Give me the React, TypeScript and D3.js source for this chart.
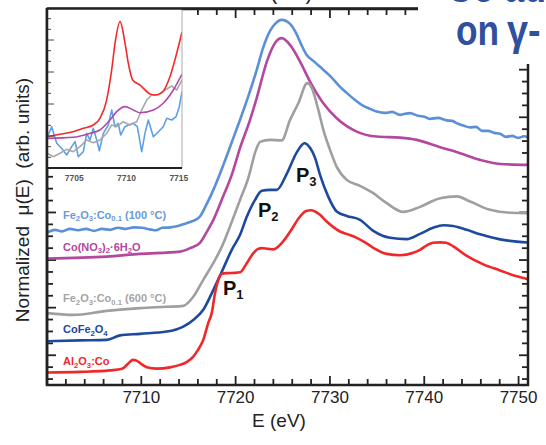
import React from 'react';
import * as d3 from 'd3';

// ---------- data ----------
const X_DOMAIN: [number, number] = [7700, 7751];
const Y_DOMAIN: [number, number] = [-0.25, 2.91];
const X_TICK_LABELS = [7710, 7720, 7730, 7740, 7750];
const INSET_X_DOMAIN: [number, number] = [7702.4, 7715.3];
const INSET_Y_DOMAIN: [number, number] = [0, 1.5];
const INSET_X_TICK_LABELS = [7705, 7710, 7715];

// main panel series: [E (eV), normalized mu(E) + offset]
const AL2O3_CO: [number, number][] = [
  [7700.0, -0.145], [7703.5, -0.14], [7706.68, -0.127], [7707.95, -0.114], [7708.59, -0.072],
  [7709.09, -0.039], [7709.54, -0.047], [7709.97, -0.072], [7710.57, -0.1], [7711.63, -0.112],
  [7713.04, -0.102], [7714.1, -0.081], [7714.85, -0.055], [7715.51, -0.011], [7716.01, 0.045],
  [7716.57, 0.129], [7717.1, 0.272], [7717.47, 0.356], [7717.82, 0.524], [7718.17, 0.634],
  [7718.53, 0.684], [7719.06, 0.69], [7719.94, 0.692], [7720.47, 0.697], [7721.18, 0.774],
  [7721.88, 0.858], [7722.38, 0.894], [7722.77, 0.9], [7723.44, 0.894], [7724.0, 0.89],
  [7724.89, 0.942], [7725.77, 1.037], [7726.83, 1.166], [7727.47, 1.213], [7728.0, 1.219],
  [7728.42, 1.208], [7728.95, 1.18], [7729.66, 1.124], [7730.33, 1.079], [7731.07, 1.04],
  [7731.92, 1.016], [7732.84, 0.987], [7733.72, 0.949], [7734.6, 0.903], [7736.02, 0.852],
  [7737.43, 0.84], [7738.84, 0.861], [7739.55, 0.886], [7740.27, 0.924], [7740.93, 0.945],
  [7741.68, 0.949], [7742.31, 0.946], [7743.09, 0.915], [7744.51, 0.835], [7746.27, 0.764],
  [7748.04, 0.713], [7749.81, 0.663], [7751.0, 0.639],
];
const COFE2O4: [number, number][] = [
  [7700.0, 0.118], [7703.5, 0.125], [7706.33, 0.129], [7707.74, 0.167], [7709.86, 0.18],
  [7712.69, 0.199], [7714.45, 0.241], [7715.51, 0.297], [7716.57, 0.382], [7717.64, 0.55],
  [7718.53, 0.701], [7719.59, 0.886], [7720.47, 1.012], [7721.18, 1.163], [7722.06, 1.306],
  [7722.77, 1.382], [7723.65, 1.39], [7724.36, 1.39], [7725.42, 1.524], [7726.48, 1.705],
  [7727.29, 1.782], [7727.89, 1.743], [7728.42, 1.659], [7728.95, 1.516], [7729.83, 1.331],
  [7730.72, 1.208], [7731.78, 1.171], [7733.19, 1.138], [7734.6, 1.045], [7736.37, 0.987],
  [7738.14, 0.976], [7739.55, 1.02], [7740.93, 1.071], [7742.03, 1.093], [7743.05, 1.087],
  [7744.51, 1.054], [7745.92, 1.016], [7748.04, 0.974], [7751.0, 0.947],
];
const FE2O3_CO_600: [number, number][] = [
  [7700.0, 0.354], [7702.76, 0.339], [7706.33, 0.373], [7709.86, 0.396], [7712.62, 0.407],
  [7714.45, 0.415], [7715.51, 0.491], [7716.57, 0.634], [7717.64, 0.776], [7718.53, 0.911],
  [7719.59, 1.121], [7720.47, 1.306], [7721.35, 1.491], [7722.16, 1.726], [7722.59, 1.793],
  [7723.65, 1.81], [7724.89, 1.806], [7725.77, 1.978], [7726.65, 2.118], [7727.6, 2.287],
  [7728.07, 2.247], [7728.77, 2.062], [7729.3, 1.894], [7730.01, 1.726], [7730.72, 1.583],
  [7731.78, 1.474], [7733.19, 1.424], [7734.6, 1.362], [7736.02, 1.278], [7737.78, 1.205],
  [7739.55, 1.247], [7741.68, 1.32], [7743.45, 1.335], [7744.86, 1.292], [7746.98, 1.222],
  [7749.1, 1.197], [7751.0, 1.194],
];
const CO_NO3_2: [number, number][] = [
  [7700.0, 0.813], [7706.33, 0.829], [7709.86, 0.852], [7714.1, 0.871], [7715.16, 0.9],
  [7716.22, 0.945], [7716.94, 1.037], [7717.64, 1.138], [7718.7, 1.34], [7719.59, 1.516],
  [7720.47, 1.743], [7721.53, 1.978], [7722.24, 2.163], [7723.3, 2.466], [7724.18, 2.625],
  [7724.89, 2.665], [7725.77, 2.608], [7726.83, 2.468], [7727.89, 2.3], [7729.3, 2.118],
  [7730.72, 1.992], [7732.84, 1.88], [7734.96, 1.838], [7737.43, 1.829], [7739.21, 1.81],
  [7741.68, 1.749], [7743.8, 1.698], [7745.92, 1.642], [7748.04, 1.608], [7751.0, 1.6],
];
const FE2O3_CO_100: [number, number][] = [
  [7700.0, 1.031], [7700.85, 1.054], [7701.59, 1.041], [7702.44, 1.062], [7703.29, 1.05],
  [7704.14, 1.062], [7704.98, 1.045], [7705.83, 1.062], [7706.68, 1.054], [7707.53, 1.071],
  [7708.38, 1.062], [7709.23, 1.075], [7710.07, 1.071], [7710.92, 1.058], [7711.56, 1.05],
  [7712.2, 1.071], [7713.04, 1.075], [7713.89, 1.087], [7714.74, 1.108], [7715.48, 1.129],
  [7716.22, 1.166], [7716.94, 1.272], [7717.64, 1.39], [7718.7, 1.6], [7719.76, 1.827],
  [7720.47, 1.979], [7721.32, 2.172], [7722.24, 2.399], [7722.91, 2.583], [7723.65, 2.726],
  [7724.18, 2.785], [7724.89, 2.819], [7725.77, 2.785], [7726.4, 2.709], [7726.83, 2.634],
  [7727.54, 2.524], [7728.24, 2.474], [7728.95, 2.424], [7730.01, 2.348], [7731.07, 2.256],
  [7731.78, 2.205], [7732.66, 2.146], [7733.54, 2.096], [7734.25, 2.071], [7734.96, 2.048],
  [7735.84, 2.037], [7736.59, 2.045], [7737.43, 2.02], [7737.96, 2.029], [7738.49, 2.035],
  [7739.34, 2.012], [7740.08, 2.003], [7740.61, 1.987], [7741.46, 1.995], [7742.39, 1.974],
  [7742.95, 1.97], [7743.59, 1.945], [7744.22, 1.928], [7744.86, 1.915], [7745.49, 1.919],
  [7746.13, 1.886], [7746.77, 1.886], [7747.4, 1.869], [7748.04, 1.861], [7748.67, 1.835],
  [7749.31, 1.844], [7749.95, 1.827], [7750.58, 1.84], [7751.0, 1.833],
];

// inset (pre-edge) series
const INSET_AL2O3_CO: [number, number][] = [
  [7702.43, 0.293], [7703.64, 0.316], [7704.91, 0.34], [7705.87, 0.372], [7706.82, 0.403],
  [7707.46, 0.466], [7708.1, 0.637], [7708.58, 0.919], [7708.9, 1.169], [7709.38, 1.372],
  [7709.86, 1.169], [7710.17, 0.982], [7710.59, 0.825], [7711.29, 0.778], [7712.24, 0.694],
  [7712.72, 0.684], [7713.36, 0.706], [7714.15, 0.856], [7714.79, 1.075], [7715.3, 1.275],
];
const INSET_CO_NO3_2: [number, number][] = [
  [7702.43, 0.278], [7704.91, 0.288], [7706.51, 0.325], [7707.46, 0.356], [7708.42, 0.45],
  [7709.06, 0.528], [7709.85, 0.575], [7710.65, 0.544], [7711.29, 0.518], [7712.56, 0.544],
  [7713.51, 0.607], [7714.47, 0.731], [7715.3, 0.881],
];
const INSET_FE2O3_CO_600: [number, number][] = [
  [7702.43, 0.138], [7703.0, 0.106], [7703.64, 0.138], [7704.28, 0.175], [7704.91, 0.153],
  [7705.55, 0.2], [7706.19, 0.262], [7706.82, 0.237], [7707.46, 0.262], [7708.1, 0.325],
  [7708.58, 0.403], [7709.06, 0.387], [7709.69, 0.434], [7710.33, 0.403], [7710.97, 0.434],
  [7711.45, 0.544], [7711.93, 0.637], [7712.4, 0.684], [7713.04, 0.684], [7713.68, 0.731],
  [7714.32, 0.769], [7714.79, 0.731], [7715.3, 0.825],
];
const INSET_FE2O3_CO_100: [number, number][] = [
  [7702.43, 0.293], [7702.85, 0.387], [7703.33, 0.232], [7703.8, 0.185], [7704.28, 0.122],
  [7704.76, 0.2], [7705.08, 0.247], [7705.39, 0.106], [7705.87, 0.153], [7706.19, 0.325],
  [7706.51, 0.262], [7706.82, 0.372], [7707.15, 0.262], [7707.4, 0.162], [7707.78, 0.325],
  [7708.26, 0.403], [7708.58, 0.544], [7708.9, 0.387], [7709.21, 0.419], [7709.44, 0.309],
  [7709.85, 0.387], [7710.17, 0.403], [7710.65, 0.419], [7711.03, 0.387], [7711.45, 0.153],
  [7711.76, 0.325], [7712.08, 0.45], [7712.56, 0.293], [7713.04, 0.34], [7713.51, 0.387],
  [7713.84, 0.466], [7714.32, 0.45], [7714.73, 0.481], [7715.04, 0.575], [7715.3, 0.715],
];

// labels: [text, isSubscript]
type Part = [string, boolean];
const LABEL_FE_100: Part[] = [['Fe', false], ['2', true], ['O', false], ['3', true], [':Co', false], ['0.1', true], [' (100 °C)', false]];
const LABEL_CONO3: Part[] = [['Co(NO', false], ['3', true], [')', false], ['2', true], ['·6H', false], ['2', true], ['O', false]];
const LABEL_FE_600: Part[] = [['Fe', false], ['2', true], ['O', false], ['3', true], [':Co', false], ['0.1', true], [' (600 °C)', false]];
const LABEL_COFE: Part[] = [['CoFe', false], ['2', true], ['O', false], ['4', true]];
const LABEL_AL: Part[] = [['Al', false], ['2', true], ['O', false], ['3', true], [':Co', false]];

// ---------- layout ----------
const W = 546, H = 445;
const PL = 47, PR = 528, PT = 9, PB = 385;
const IL = 47, IR = 182, IT = 8, IB = 168;

const C_LBLUE = '#5b8fd8';
const C_MAG = '#b4479f';
const C_GRAY = '#9f9f9f';
const C_DBLUE = '#1d4a9e';
const C_RED = '#f0282a';
const AX = '#222';

function Chem({ parts, x, y, fill, size }: { parts: Part[]; x: number; y: number; fill: string; size: number }) {
  let prevSub = false;
  return (
    <text x={x} y={y} fill={fill} fontSize={size} fontWeight="bold" fontFamily="Arial, Liberation Sans, sans-serif" style={{ whiteSpace: 'pre' }}>
      {parts.map(([t, sub], i) => {
        const dy = sub && !prevSub ? size * 0.25 : !sub && prevSub ? -size * 0.25 : 0;
        prevSub = sub;
        return (
          <tspan key={i} dy={dy} fontSize={sub ? size * 0.7 : size}>{t}</tspan>
        );
      })}
    </text>
  );
}

function PLabel({ n, x, y }: { n: string; x: number; y: number }) {
  return (
    <text x={x} y={y} fill="#111" fontSize={20} fontWeight="bold" fontFamily="Arial, Liberation Sans, sans-serif">
      P<tspan dy={4} fontSize={13}>{n}</tspan>
    </text>
  );
}

export default function App() {
  const x = d3.scaleLinear().domain(X_DOMAIN).range([PL, PR]);
  const y = d3.scaleLinear().domain(Y_DOMAIN).range([PB, PT]);
  const ix = d3.scaleLinear().domain(INSET_X_DOMAIN).range([IL, IR]);
  const iy = d3.scaleLinear().domain(INSET_Y_DOMAIN).range([IB, IT]);

  const line = d3.line<[number, number]>().x(d => x(d[0])).y(d => y(d[1])).curve(d3.curveMonotoneX);
  const iline = d3.line<[number, number]>().x(d => ix(d[0])).y(d => iy(d[1])).curve(d3.curveMonotoneX);
  const ilineLin = d3.line<[number, number]>().x(d => ix(d[0])).y(d => iy(d[1]));

  const xTicks = d3.range(7702, 7751, 2);
  const yTicks = d3.range(-2, 30);
  const iyTicks = d3.range(1, 15);

  const font = 'Arial, Liberation Sans, sans-serif';

  return (
    <svg width={W} height={H} style={{ position: 'absolute', left: 0, top: 0, background: '#fff' }} fontFamily={font}>
      <defs>
        <clipPath id="plotClip"><rect x={PL} y={PT} width={PR - PL} height={PB - PT} /></clipPath>
        <clipPath id="insetClip"><rect x={IL} y={IT} width={IR - IL} height={IB - IT} /></clipPath>
      </defs>
      <rect x={0} y={0} width={W} height={H} fill="#fff" />

      {/* title remnant (cut off at the top, as in the source) */}
      <text x={270} y={-1} fontSize={22} fill="#222" letterSpacing={8}>(b)</text>

      {/* ticks */}
      <g stroke={AX} strokeWidth={1.8}>
        {xTicks.map(t => {
          const major = t % 10 === 0;
          const L = major ? 9 : 6;
          return (
            <g key={t}>
              <line x1={x(t)} x2={x(t)} y1={PB} y2={PB - L} />
              <line x1={x(t)} x2={x(t)} y1={PT} y2={PT + L} />
            </g>
          );
        })}
        {yTicks.map(i => {
          const major = i % 4 === 0;
          const L = major ? 9 : 6;
          const v = i / 10;
          return (
            <g key={i}>
              <line x1={PL} x2={PL + L} y1={y(v)} y2={y(v)} />
              <line x1={PR} x2={PR - L} y1={y(v)} y2={y(v)} />
            </g>
          );
        })}
      </g>

      {/* curves */}
      <g clipPath="url(#plotClip)" fill="none" strokeWidth={2.6} strokeLinejoin="round">
        <path d={line(FE2O3_CO_100) || ''} stroke={C_LBLUE} />
        <path d={line(CO_NO3_2) || ''} stroke={C_MAG} />
        <path d={line(FE2O3_CO_600) || ''} stroke={C_GRAY} />
        <path d={line(COFE2O4) || ''} stroke={C_DBLUE} />
        <path d={line(AL2O3_CO) || ''} stroke={C_RED} />
      </g>

      {/* frame */}
      <rect x={PL} y={PT} width={PR - PL} height={PB - PT} fill="none" stroke={AX} strokeWidth={2.5} />

      {/* series labels */}
      <Chem parts={LABEL_FE_100} x={63} y={218.5} fill="#6a9ad9" size={11} />
      <Chem parts={LABEL_CONO3} x={63} y={250.5} fill={C_MAG} size={11} />
      <Chem parts={LABEL_FE_600} x={63} y={302} fill="#a5a5a5" size={11} />
      <Chem parts={LABEL_COFE} x={63} y={333} fill={C_DBLUE} size={11} />
      <Chem parts={LABEL_AL} x={63} y={365} fill={C_RED} size={11} />

      <PLabel n="1" x={223} y={295} />
      <PLabel n="2" x={258} y={217} />
      <PLabel n="3" x={296} y={182} />

      {/* inset */}
      <rect x={IL} y={IT} width={IR - IL} height={IB - IT} fill="#fff" />
      <g clipPath="url(#insetClip)" fill="none" strokeWidth={1.6} strokeLinejoin="round">
        <path d={ilineLin(INSET_FE2O3_CO_100) || ''} stroke="#5ea0e2" />
        <path d={ilineLin(INSET_FE2O3_CO_600) || ''} stroke="#a8a8a8" />
        <path d={iline(INSET_CO_NO3_2) || ''} stroke="#b049a8" />
        <path d={iline(INSET_AL2O3_CO) || ''} stroke="#f22a2a" />
      </g>
      <g stroke="#444" strokeWidth={1}>
        {iyTicks.map(i => {
          const L = i % 3 === 0 ? 7 : 4;
          return <line key={i} x1={IL} x2={IL + L} y1={iy(i / 10)} y2={iy(i / 10)} />;
        })}
      </g>
      <line x1={IR} x2={IR} y1={IT} y2={IB} stroke="#aaa" strokeWidth={1} />
      <line x1={IL} x2={IR} y1={IB} y2={IB} stroke={AX} strokeWidth={2} />
      <line x1={IL} x2={PR} y1={IT + 0.5} y2={IT + 0.5} stroke={AX} strokeWidth={2.5} />
      <line x1={PL} x2={PL} y1={PT - 1} y2={PB} stroke={AX} strokeWidth={2.5} />
      {INSET_X_TICK_LABELS.map(t => (
        <text key={t} x={ix(t)} y={181} fontSize={8.5} fontWeight="bold" fill="#555" textAnchor="middle">{t}</text>
      ))}

      {/* axis tick labels */}
      {X_TICK_LABELS.map(t => (
        <text key={t} x={x(t)} y={402.5} fontSize={17} fill={AX} textAnchor="middle">{t}</text>
      ))}
      <text x={279} y={427} fontSize={19} fill={AX} textAnchor="middle">E (eV)</text>
      <text transform="translate(29,200) rotate(-90)" fontSize={19} fill={AX} textAnchor="middle" style={{ whiteSpace: 'pre' }}>
        Normalized  μ(E)  (arb. units)
      </text>

      {/* slide overlay */}
      <rect x={418} y={0} width={128} height={64} fill="#fff" />
      <g fill="#2f4f9f" fontWeight="bold" fontSize={42}>
        <text transform="translate(447,1.5) scale(0.85,1)">Co ad</text>
        <text transform="translate(456,45) scale(0.84,1)">on</text>
        <text transform="translate(507,45) scale(0.9,1)">γ-</text>
      </g>
    </svg>
  );
}
